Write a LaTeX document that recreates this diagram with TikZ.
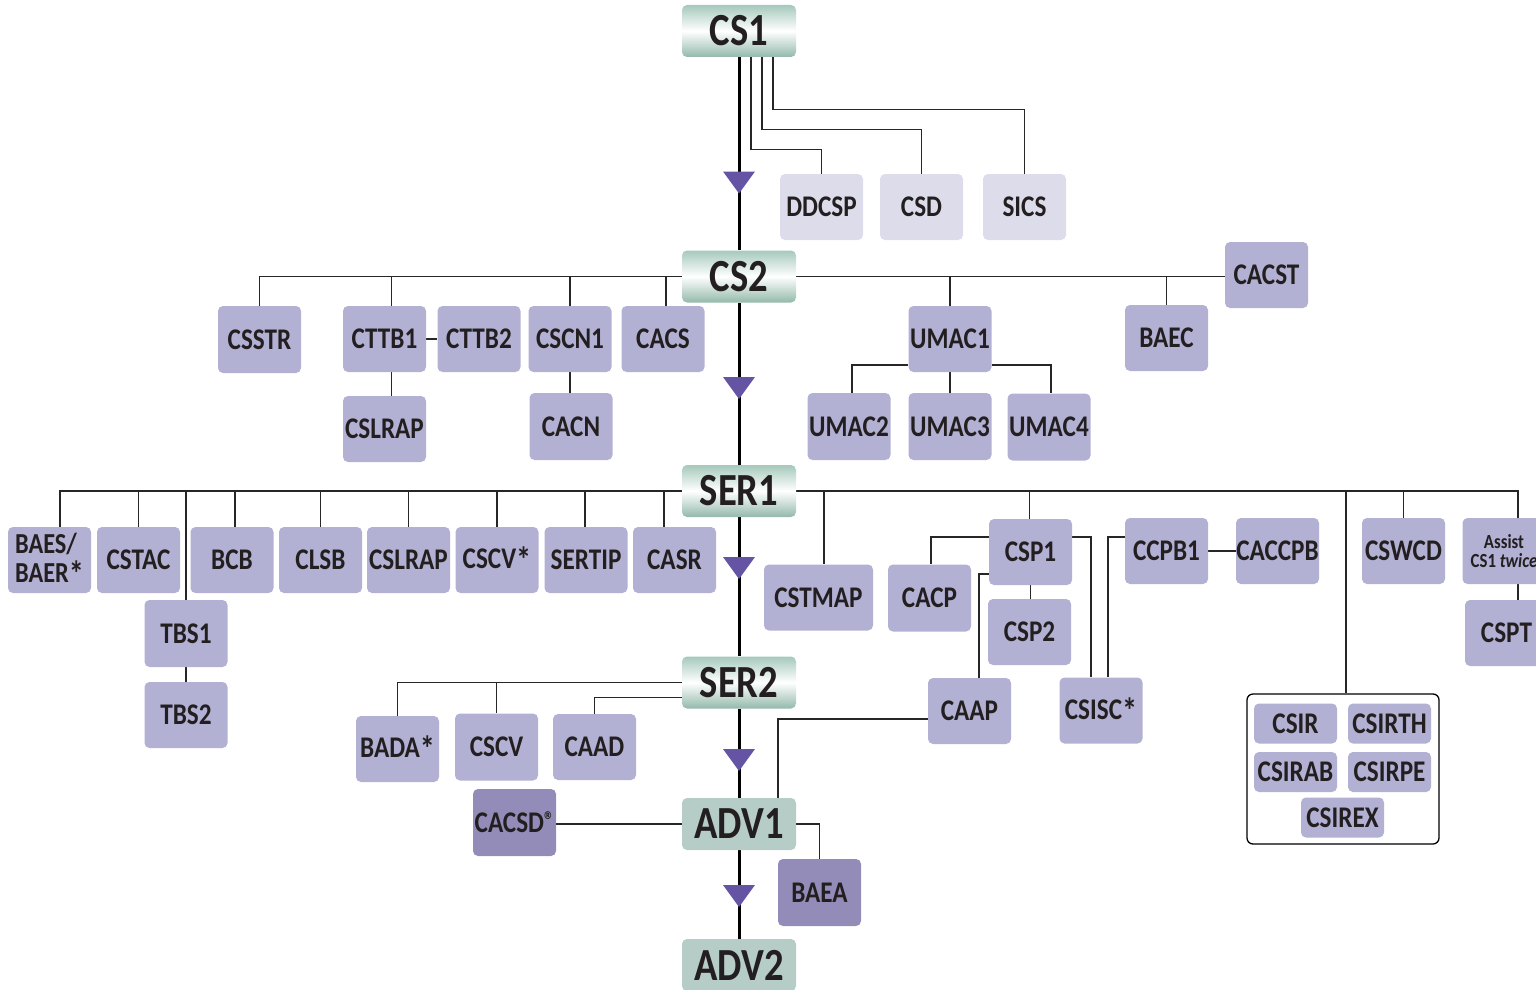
\documentclass[tikz,border=0pt]{standalone}
\usepackage{fontspec}
\setmainfont{Carlito}[FakeStretch=0.84]
\usetikzlibrary{backgrounds}
\definecolor{lav}{HTML}{B2B0D3}
\definecolor{lavlight}{HTML}{DDDCEA}
\definecolor{lavdark}{HTML}{948CB8}
\definecolor{gtop}{HTML}{A6C9BC}
\definecolor{gbot}{HTML}{93B9AB}
\definecolor{advc}{HTML}{B6CDC7}
\definecolor{txt}{HTML}{231F20}
\definecolor{tric}{HTML}{6553A3}
\newcommand\astk{\raisebox{-4pt}{\fontsize{36}{36}\selectfont *}}
\begin{document}
\begin{tikzpicture}[x=1pt,y=-1pt,
  box/.style={rounded corners=5pt, fill=lav, inner sep=0pt, align=center, text=txt,
    font=\bfseries\fontsize{30}{30}\selectfont, minimum width=83pt, minimum height=66pt},
  lightbox/.style={box, fill=lavlight},
  darkbox/.style={box, fill=lavdark},
  smallbox/.style={box, minimum height=40pt},
  level/.style={rounded corners=5pt, inner sep=0pt, text=txt,
    font=\bfseries\fontsize{46}{46}\selectfont, minimum width=114pt, minimum height=52pt},
  shlevel/.style={level, top color=gtop, bottom color=gbot, middle color=white},
  advlevel/.style={level, fill=advc},
  grp/.style={rounded corners=6pt, draw=black, line width=1.3pt, fill=white,
    minimum width=192pt, minimum height=150pt, inner sep=0pt},
  conn/.style={draw=black!85, line width=1.3pt},
  spine/.style={draw=black, line width=3pt},
  tri/.style={fill=tric}
]
\useasboundingbox (0,0) rectangle (1536,990);

% level nodes
\node[shlevel] (cs1) at (739,31) {CS1};
\node[shlevel] (cs2) at (739,276.5) {CS2};
\node[shlevel] (ser1) at (739,491) {SER1};
\node[shlevel] (ser2) at (739,682.5) {SER2};
\node[advlevel] (adv1) at (739,824) {ADV1};
\node[advlevel] (adv2) at (739,965) {ADV2};

% CS1 children
\node[lightbox] (ddcsp) at (821.5,207) {DDCSP};
\node[lightbox] (csd) at (921.5,207) {CSD};
\node[lightbox] (sics) at (1024.5,207) {SICS};

% CS2 children
\node[box, minimum height=67pt] (csstr) at (259.5,339.5) {CSSTR};
\node[box] (cttb1) at (384.5,339) {CTTB1};
\node[box] (cttb2) at (479,339) {CTTB2};
\node[box] (cscn1) at (570,339) {CSCN1};
\node[box] (cacs) at (663,339) {CACS};
\node[box] (cslrapa) at (384.5,429) {CSLRAP};
\node[box, minimum height=67pt] (cacn) at (571,426.5) {CACN};
\node[box] (umac1) at (950,339) {UMAC1};
\node[box, minimum height=67pt] (umac2) at (849,426.5) {UMAC2};
\node[box, minimum height=67pt] (umac3) at (950,426.5) {UMAC3};
\node[box, minimum height=67pt] (umac4) at (1049,427) {UMAC4};
\node[box] (baec) at (1166.5,338) {BAEC};
\node[box] (cacst) at (1266.5,275) {CACST};

% SER1 children (left)
\node[box, align=left, font=\bfseries\fontsize{29}{29}\selectfont] (baes) at (49.5,560) {BAES/\\BAER\astk};
\node[box] (cstac) at (138.5,560) {CSTAC};
\node[box] (bcb) at (232,560) {BCB};
\node[box] (clsb) at (320.5,560) {CLSB};
\node[box] (cslrapb) at (408.5,560) {CSLRAP};
\node[box] (cscvs) at (497,560) {CSCV\astk};
\node[box] (sertip) at (586,560) {SERTIP};
\node[box] (casr) at (674.5,560) {CASR};
\node[box, minimum height=67pt] (tbs1) at (186,633.5) {TBS1};
\node[box] (tbs2) at (186,715) {TBS2};

% SER1 children (right)
\node[box, minimum width=109pt] (cstmap) at (818.5,597.5) {CSTMAP};
\node[box, minimum height=67pt] (cacp) at (929.5,598) {CACP};
\node[box] (csp1) at (1030.5,552) {CSP1};
\node[box] (csp2) at (1029.5,632) {CSP2};
\node[box] (caap) at (969.5,711) {CAAP};
\node[box] (csisc) at (1101,710.5) {CSISC\astk};
\node[box] (ccpb1) at (1166.5,551) {CCPB1};
\node[box] (caccpb) at (1277.5,551) {CACCPB};
\node[box] (cswcd) at (1403.5,551) {CSWCD};
\node[box, font=\bfseries\fontsize{20}{19}\selectfont] (assist) at (1504,551) {Assist\\CS1 \textit{twice}};
\node[box] (cspt) at (1506.5,633) {CSPT};

% CSIR group
\node[grp] (grp) at (1343,769) {};
\node[smallbox] (csir) at (1295.5,723.5) {CSIR};
\node[smallbox] (csirth) at (1389.5,723.5) {CSIRTH};
\node[smallbox] (csirab) at (1295.5,772) {CSIRAB};
\node[smallbox] (csirpe) at (1389.5,772) {CSIRPE};
\node[smallbox] (csirex) at (1342.5,817.5) {CSIREX};

% SER2 children
\node[box] (bada) at (397.5,749) {BADA\astk};
\node[box, minimum height=67pt] (cscv) at (496.5,747) {CSCV};
\node[box] (caad) at (594.5,747) {CAAD};
\node[darkbox, minimum height=67pt] (cacsd) at (514.5,822.5) {CACSD\raisebox{4pt}{\fontsize{24}{24}\selectfont ®}};
\node[darkbox, minimum height=67pt] (baea) at (819.5,892.5) {BAEA};

% triangle markers on the spine
\coordinate (t1) at (739,182.5);
\coordinate (t2) at (739,388);
\coordinate (t3) at (739,568);
\coordinate (t4) at (739,760);
\coordinate (t5) at (739,896);

\begin{pgfonlayer}{background}
  % spine
  \draw[spine] (cs1) -- (cs2) -- (ser1) -- (ser2) -- (adv1) -- (adv2);
  % CS1 branches
  \draw[conn] ([xshift=12pt]cs1.south) -- ++(0,92) -| (ddcsp.north);
  \draw[conn] ([xshift=23pt]cs1.south) -- ++(0,72) -| (csd.north);
  \draw[conn] ([xshift=34pt]cs1.south) -- ++(0,52) -| (sics.north);
  % CS2 branches
  \draw[conn] (cs2.west) -| (csstr.north);
  \draw[conn] (cs2.west) -| ([xshift=7pt]cttb1.north);
  \draw[conn] (cs2.west) -| (cscn1.north);
  \draw[conn] (cs2.west) -| ([xshift=3pt]cacs.north);
  \draw[conn] (cttb1.east) -- (cttb2.west);
  \draw[conn] ([xshift=7pt]cttb1.south) -- ([xshift=7pt]cslrapa.north);
  \draw[conn] (cscn1.south) -- (cscn1.south |- cacn.north);
  \draw[conn] (cs2.east) -| (umac1.north);
  \draw[conn] (cs2.east) -| (baec.north);
  \draw[conn] (cs2.east) -- (cs2.east -| cacst.west);
  \draw[conn] ([yshift=-26pt]umac1.west) -| ([xshift=3pt]umac2.north);
  \draw[conn] (umac1.south) -- (umac3.north);
  \draw[conn] ([yshift=-26pt]umac1.east) -| ([xshift=2pt]umac4.north);
  % SER1 branches left
  \draw[conn] (ser1.west) -| ([xshift=10.5pt]baes.north);
  \draw[conn] (ser1.west) -| (cstac.north);
  \draw[conn] (ser1.west) -| (tbs1.north);
  \draw[conn] (ser1.west) -| ([xshift=3pt]bcb.north);
  \draw[conn] (ser1.west) -| (clsb.north);
  \draw[conn] (ser1.west) -| (cslrapb.north);
  \draw[conn] (ser1.west) -| (cscvs.north);
  \draw[conn] (ser1.west) -| ([xshift=-1pt]sertip.north);
  \draw[conn] (ser1.west) -| ([xshift=-10.5pt]casr.north);
  \draw[conn] (tbs1.south) -- (tbs2.north);
  % SER1 branches right
  \draw[conn] (ser1.east) -| ([xshift=5.5pt]cstmap.north);
  \draw[conn] (ser1.east) -| ([xshift=-1pt]csp1.north);
  \draw[conn] (ser1.east) -| ([xshift=3pt]grp.north);
  \draw[conn] (ser1.east) -| (cswcd.north);
  \draw[conn] (ser1.east) -| ([xshift=14pt]assist.north);
  \draw[conn] ([xshift=14pt]assist.south) -- ([xshift=11.5pt]cspt.north);
  \draw[conn] ([yshift=15pt]csp1.west) -| ([xshift=1.5pt]cacp.north);
  \draw[conn] ([yshift=-22pt]csp1.west) -| ([xshift=9.5pt]caap.north);
  \draw[conn] (csp1.south) -- (csp1.south |- csp2.north);
  \draw[conn] ([yshift=15pt]csp1.east) -| ([xshift=-10pt]csisc.north);
  \draw[conn] ([yshift=14pt]ccpb1.west) -| ([xshift=7pt]csisc.north);
  \draw[conn] (ccpb1.east) -- (caccpb.west);
  % SER2 branches
  \draw[conn] (ser2.west) -| (bada.north);
  \draw[conn] (ser2.west) -| (cscv.north);
  \draw[conn] ([yshift=-15pt]ser2.west) -| (caad.north);
  % ADV1 branches
  \draw[conn] (adv1.west) -- (adv1.west -| cacsd.east);
  \draw[conn] ([yshift=-8pt]caap.west) -| ([xshift=39pt]adv1.north);
  \draw[conn] (adv1.east) -| (baea.north);
\end{pgfonlayer}

% triangles
\foreach \t in {t1,t2,t3,t4,t5}
  \fill[tri] (\t) ++(-16,-11) -- ++(32,0) -- ++(-16,22) -- cycle;
\end{tikzpicture}
\end{document}
